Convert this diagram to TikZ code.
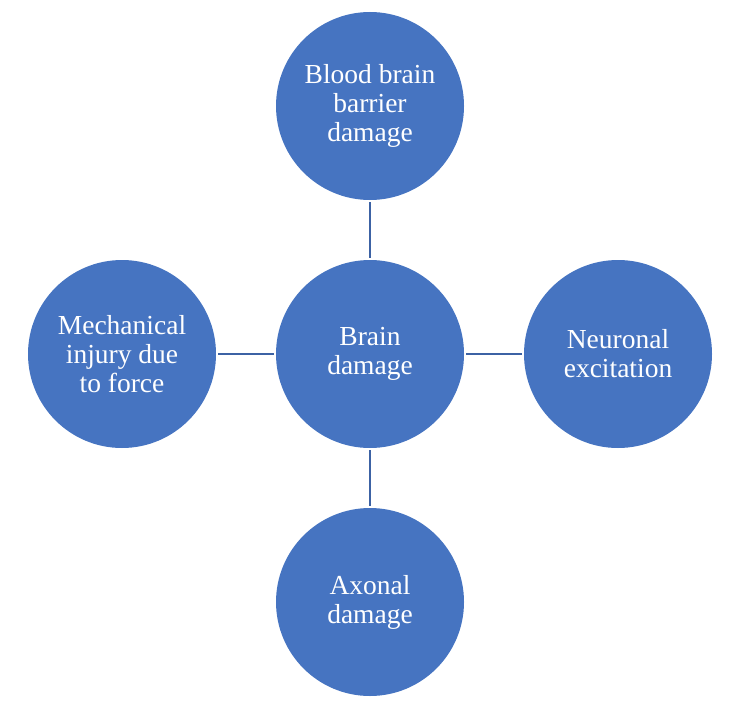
\documentclass[tikz,border=0pt]{standalone}
\usepackage{fontspec}
\setmainfont{Liberation Serif}
\usetikzlibrary{positioning}
\definecolor{discfill}{HTML}{4674C1}
\definecolor{spoke}{HTML}{3C62A4}

\begin{document}
\begin{tikzpicture}[x=1pt,y=-1pt,node distance=248pt,on grid,
    disc/.style={circle,fill=discfill,minimum size=188pt,inner sep=0pt,
      text=white,align=center,font=\fontsize{27.5}{29}\selectfont},
    spokeline/.style={draw=spoke,line width=1.5pt,shorten >=2pt,shorten <=2pt}]
   \useasboundingbox (0,0) rectangle (738,722);
   \node[disc] (brain) at (370,354) {Brain\\damage};
   \node[disc] (bbb)   [above=of brain] {Blood brain\\barrier\\damage};
   \node[disc] (neuro) [right=of brain] {Neuronal\\excitation};
   \node[disc] (axon)  [below=of brain] {Axonal\\damage};
   \node[disc] (mech)  [left=of brain]  {Mechanical\\injury due\\to force};
    \path[spokeline]
    (brain) edge (bbb)
            edge (neuro)
            edge (axon)
            edge (mech);
\end{tikzpicture}
\end{document}
